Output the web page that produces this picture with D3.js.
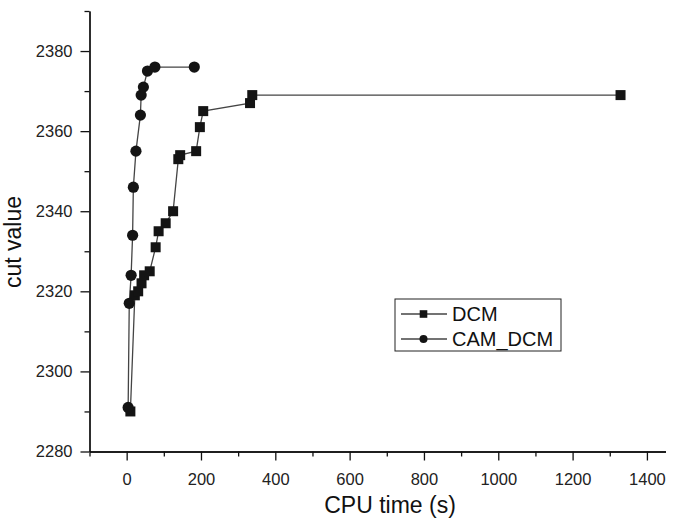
<!DOCTYPE html>
<html>
<head>
<meta charset="utf-8">
<script src="https://cdn.jsdelivr.net/npm/d3@7"></script>
<style>
  html, body { margin: 0; padding: 0; background: #fff; }
  svg { display: block; font-family: "Liberation Sans", Arial, sans-serif; }
</style>
</head>
<body>
<svg id="chart" width="678" height="520"></svg>
<script>
// ---- data ----
const dcmTime = [10, 22, 31, 40, 47, 62, 78, 86, 105, 125, 139, 144, 187, 197, 206, 332, 338, 1329];
const dcmCut  = [2290, 2319, 2320, 2322, 2324, 2325, 2331, 2335, 2337, 2340, 2353, 2354, 2355, 2361, 2365, 2367, 2369, 2369];
const camTime = [4, 7, 12, 16, 18, 25, 37, 39, 45, 56, 76, 182];
const camCut  = [2291, 2317, 2324, 2334, 2346, 2355, 2364, 2369, 2371, 2375, 2376, 2376];
const xMajorTicks = [0, 200, 400, 600, 800, 1000, 1200, 1400];
const xMinorTicks = [-100, 100, 300, 500, 700, 900, 1100, 1300];
const yMajorTicks = [2280, 2300, 2320, 2340, 2360, 2380];
const yMinorTicks = [2290, 2310, 2330, 2350, 2370, 2390];
const seriesNames = ["DCM", "CAM_DCM"];

const svg = d3.select("#chart");
const x = d3.scaleLinear().domain([-100, 1450]).range([89.5, 665.5]);
const y = d3.scaleLinear().domain([2280, 2390]).range([451.5, 11]);

const dcm = dcmTime.map((t, i) => ({ t, v: dcmCut[i] }));
const cam = camTime.map((t, i) => ({ t, v: camCut[i] }));

const line = d3.line().x(d => x(d.t)).y(d => y(d.v));
const lineColor = "#444";
const markColor = "#141414";

// lines
svg.append("path").datum(dcm).attr("d", line)
  .attr("fill", "none").attr("stroke", lineColor).attr("stroke-width", 1.3);
svg.append("path").datum(cam).attr("d", line)
  .attr("fill", "none").attr("stroke", lineColor).attr("stroke-width", 1.3);

// markers
const sq = 10;
svg.append("g").selectAll("rect").data(dcm).join("rect")
  .attr("x", d => x(d.t) - sq / 2).attr("y", d => y(d.v) - sq / 2)
  .attr("width", sq).attr("height", sq).attr("fill", markColor);
svg.append("g").selectAll("circle").data(cam).join("circle")
  .attr("cx", d => x(d.t)).attr("cy", d => y(d.v)).attr("r", 5.6)
  .attr("fill", markColor);

// axes
const fmt = d3.format("d");
function styleAxis(g) {
  g.select(".domain").attr("stroke", "#111").attr("stroke-width", 1.3);
  g.selectAll(".tick line").attr("stroke", "#111").attr("stroke-width", 1.3);
  g.selectAll(".tick text").attr("fill", "#222").style("font-size", "16.5px")
    .style("font-family", "'Liberation Sans', Arial, sans-serif");
}
svg.append("g").attr("transform", `translate(0,${y(2280)})`)
  .call(d3.axisBottom(x).tickValues(xMajorTicks).tickFormat(fmt).tickSize(9).tickPadding(13).tickSizeOuter(0))
  .call(styleAxis);
svg.append("g").attr("transform", `translate(0,${y(2280)})`)
  .call(d3.axisBottom(x).tickValues(xMinorTicks).tickSize(5).tickFormat("").tickSizeOuter(0))
  .call(styleAxis);

svg.append("g").attr("transform", `translate(${x(-100)},0)`)
  .call(d3.axisLeft(y).tickValues(yMajorTicks).tickFormat(fmt).tickSize(9).tickPadding(8).tickSizeOuter(0))
  .call(styleAxis);
svg.append("g").attr("transform", `translate(${x(-100)},0)`)
  .call(d3.axisLeft(y).tickValues(yMinorTicks).tickSize(5).tickFormat("").tickSizeOuter(0))
  .call(styleAxis);

// axis titles
svg.append("text").attr("x", 390).attr("y", 513).attr("text-anchor", "middle")
  .style("font-size", "23px").attr("fill", "#111").text("CPU time (s)");
svg.append("text").attr("transform", "translate(21,242) rotate(-90)")
  .attr("text-anchor", "middle").style("font-size", "23px").attr("fill", "#111")
  .text("cut value");

// legend
const lg = svg.append("g");
lg.append("rect").attr("x", 395).attr("y", 299).attr("width", 166).attr("height", 52)
  .attr("fill", "#fff").attr("stroke", "#222").attr("stroke-width", 1);
const rows = [{ name: seriesNames[0], cy: 314, type: "sq" }, { name: seriesNames[1], cy: 339, type: "c" }];
rows.forEach(r => {
  lg.append("line").attr("x1", 401).attr("x2", 447).attr("y1", r.cy).attr("y2", r.cy)
    .attr("stroke", lineColor).attr("stroke-width", 1.3);
  if (r.type === "sq") {
    lg.append("rect").attr("x", 423.5 - 3.8).attr("y", r.cy - 3.8).attr("width", 7.6).attr("height", 7.6)
      .attr("fill", markColor);
  } else {
    lg.append("circle").attr("cx", 423.5).attr("cy", r.cy).attr("r", 4).attr("fill", markColor);
  }
  lg.append("text").attr("x", 452).attr("y", r.cy + 7).style("font-size", "20px")
    .attr("fill", "#111").text(r.name);
});
</script>
</body>
</html>
